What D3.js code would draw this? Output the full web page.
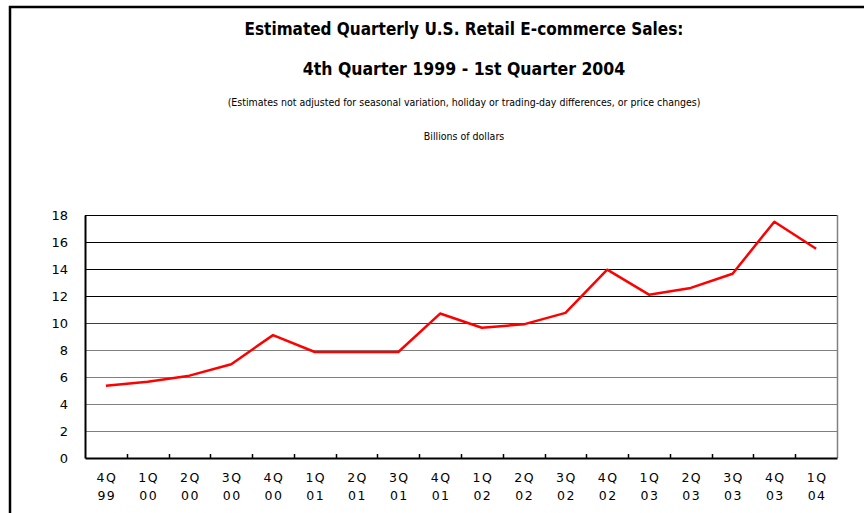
<!DOCTYPE html>
<html><head><meta charset="utf-8">
<script src="https://cdn.jsdelivr.net/npm/d3@7"></script>
<style>body{margin:0;background:#fff}svg{display:block}</style>
</head><body>
<script>
const quarters = ["4Q","1Q","2Q","3Q","4Q","1Q","2Q","3Q","4Q","1Q","2Q","3Q","4Q","1Q","2Q","3Q","4Q","1Q"];
const years = ["99","00","00","00","00","01","01","01","01","02","02","02","02","03","03","03","03","04"];
const sales = [5.35,5.65,6.1,6.95,9.1,7.85,7.85,7.85,10.7,9.65,9.9,10.75,13.95,12.1,12.6,13.65,17.5,15.5];
const yTicks = [0,2,4,6,8,10,12,14,16,18];
const titles = ["Estimated Quarterly U.S. Retail E-commerce Sales:","4th Quarter 1999 - 1st Quarter 2004"];
const subtitle = "(Estimates not adjusted for seasonal variation, holiday or trading-day differences, or price changes)";
const unitLabel = "Billions of dollars";

const W=864,H=513;
const svg=d3.select("body").append("svg").attr("width",W).attr("height",H);
svg.append("rect").attr("x",10).attr("y",7).attr("width",W+20).attr("height",H+20)
  .attr("fill","none").attr("stroke","#000").attr("stroke-width",2.5);

const m={l:85,r:837,t:215,b:458};
const cats=sales.map((d,i)=>i);
const x=d3.scaleBand().domain(cats).range([m.l,m.r]);
const y=d3.scaleLinear().domain([0,18]).range([m.b,m.t]);

// gridlines
svg.append("g").selectAll("line").data(yTicks.filter(d=>d>0)).join("line")
  .attr("x1",m.l).attr("x2",m.r).attr("y1",d=>Math.round(y(d))+0.5).attr("y2",d=>Math.round(y(d))+0.5)
  .attr("stroke",d=>d>=12?"#000":(d==10?"#404040":"#808080")).attr("stroke-width",1.2);
// right border
svg.append("line").attr("x1",m.r+0.5).attr("x2",m.r+0.5).attr("y1",m.t).attr("y2",m.b).attr("stroke","#808080").attr("stroke-width",1.5);

// y axis
const yAxis=svg.append("g").attr("transform",`translate(${m.l},0)`)
  .call(d3.axisLeft(y).tickValues(yTicks).tickSize(0).tickPadding(17));
yAxis.select(".domain").attr("stroke","#000").attr("stroke-width",2);
yAxis.selectAll("text").attr("font-family","DejaVu Sans").attr("font-size",13).attr("fill","#000");

// x axis
const xAxis=svg.append("g").attr("transform",`translate(0,${m.b})`)
  .call(d3.axisBottom(x).tickSize(0).tickFormat(""));
xAxis.select(".domain").attr("stroke","#000").attr("stroke-width",2);
svg.append("g").selectAll("line").data(cats.slice(1)).join("line")
  .attr("x1",d=>Math.round(x(d))+0.5).attr("x2",d=>Math.round(x(d))+0.5)
  .attr("y1",m.b-4).attr("y2",m.b).attr("stroke","#000").attr("stroke-width",1.5);
const lab=svg.append("g").selectAll("text").data(cats).join("text")
  .attr("x",d=>x(d)+x.bandwidth()/2+1).attr("text-anchor","middle")
  .attr("font-family","DejaVu Sans").attr("font-size",12.5).attr("letter-spacing",1.5).attr("fill","#000");
lab.append("tspan").attr("x",d=>x(d)+x.bandwidth()/2+1).attr("y",482).text(d=>quarters[d]);
lab.append("tspan").attr("x",d=>x(d)+x.bandwidth()/2+1).attr("y",500).text(d=>years[d]);

// line
svg.append("path").datum(cats).attr("fill","none").attr("stroke","#ff0000").attr("stroke-width",2.5)
  .attr("stroke-linejoin","round")
  .attr("d",d3.line().x(d=>x(d)+x.bandwidth()/2).y(d=>y(sales[d])));

// titles
const cx=464;
const tf="DejaVu Sans Condensed, DejaVu Sans";
svg.append("text").attr("x",cx).attr("y",35).attr("text-anchor","middle")
  .attr("font-family",tf).attr("font-weight","bold").attr("font-size",17).text(titles[0]);
svg.append("text").attr("x",cx).attr("y",75).attr("text-anchor","middle")
  .attr("font-family",tf).attr("font-weight","bold").attr("font-size",17.5).text(titles[1]);
svg.append("text").attr("x",cx).attr("y",106).attr("text-anchor","middle")
  .attr("font-family",tf).attr("font-size",10.5).text(subtitle);
svg.append("text").attr("x",cx).attr("y",140).attr("text-anchor","middle")
  .attr("font-family",tf).attr("font-size",10.5).text(unitLabel);
</script>
</body></html>
